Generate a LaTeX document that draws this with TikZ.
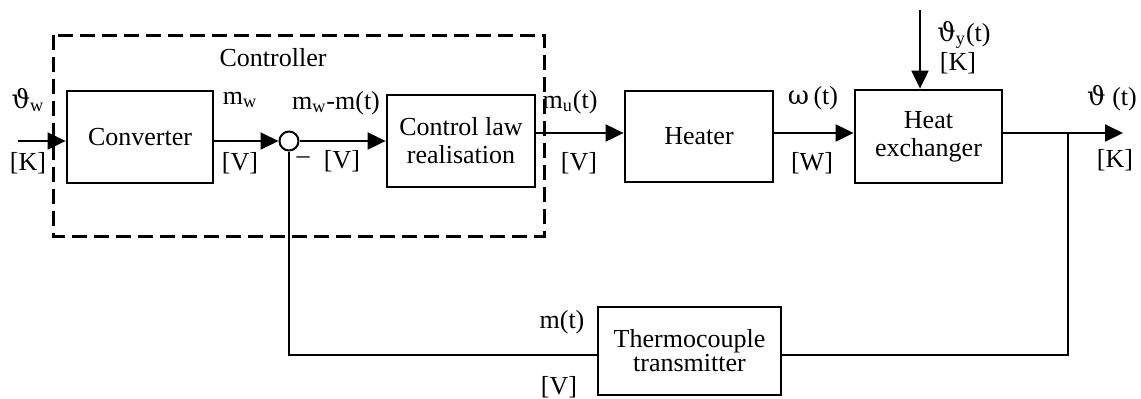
\documentclass[tikz,border=0pt]{standalone}
\usepackage{fontspec}
\setmainfont{Liberation Serif}
\newfontfamily\grk{DejaVu Serif}
\usetikzlibrary{arrows.meta}
\newcommand{\vth}{{\grk ϑ}}
\newcommand{\omg}{{\grk ω}}

\begin{document}
\begin{tikzpicture}[x=0.5pt,y=-0.5pt,
	font=\fontsize{13}{14}\selectfont,
	block/.style={draw,line width=1.4pt,inner sep=0pt,align=center},
	sig/.style={line width=1pt},
	>={Triangle[length=9pt,width=8.5pt]}]
			\useasboundingbox (0,0) rectangle (1141,398);
			\draw[line width=1.5pt,dash pattern=on 7.5pt off 3.5pt] (53,35) rectangle (544,236);
			\node (ctrlname) at (273,58) {Controller};
			\node[block,minimum width=73pt,minimum height=46pt] (conv) at (140,137) {Converter};
			\node[draw,circle,line width=1pt,minimum size=9.5pt,inner sep=0pt] (sum) at (289,141) {};
			\node[block,minimum width=74pt,minimum height=46pt] (law) at (461,141) {Control law\\realisation};
			\node[block,minimum width=74pt,minimum height=45.5pt] (heat) at (699,136.5) {Heater};
			\node[block,minimum width=73.5pt,minimum height=46.5pt] (hx) at (928.5,136.5) {Heat\\exchanger};
			\node[block,minimum width=91.5pt,minimum height=44pt] (tc) at (689.5,351) {Thermocouple\\[-2pt]transmitter};
			\coordinate (in) at (18,141);
			\coordinate (lvl) at (0,133);
			\coordinate (out) at (1123,133);
			\coordinate (dist) at (920,10);
			\coordinate (tap) at (1068,133);
			\coordinate (fb) at (0,355);
			\draw[sig,->] (in) -- (in -| conv.west);
			\draw[sig,->] (conv.east |- sum) -- (sum.west);
			\draw[sig,->] (sum.east) -- (sum.east -| law.west);
			\draw[sig,->] (law.east |- lvl) -- (heat.west |- lvl);
			\draw[sig,->] (heat.east |- lvl) -- (hx.west |- lvl);
			\draw[sig,->] (hx.east |- lvl) -- (out);
			\draw[sig,->] (dist) -- (dist |- hx.north);
			\draw[sig] (tap) |- (tc.east |- fb);
			\draw[sig] (tc.west |- fb) -| (sum.south);
			\node (thw) at (28,100) {\vth\textsubscript{w}};
			\node (kin) at (28,163) {[K]};
			\node (mw) at (240,100) {m\textsubscript{w}};
			\node (vw) at (240,163) {[V]};
			\node (err) at (336,103) {m\textsubscript{w}-m(t)};
			\node (minus) at (303,160) {–};
			\node (ve) at (342,161) {[V]};
			\node (mu) at (570,102) {m\textsubscript{u}(t)};
			\node (vu) at (579,163) {[V]};
			\node (om) at (813,98) {\omg\,(t)};
			\node (ww) at (812,163) {[W]};
			\node (thy) at (964,35) {\vth\textsubscript{y}(t)};
			\node (ky) at (958,63) {[K]};
			\node (th) at (1112,98) {\vth\ (t)};
			\node (kout) at (1115,160) {[K]};
			\node (mt) at (562,322) {m(t)};
			\node (vm) at (559,387) {[V]};
		\end{tikzpicture}
\end{document}
